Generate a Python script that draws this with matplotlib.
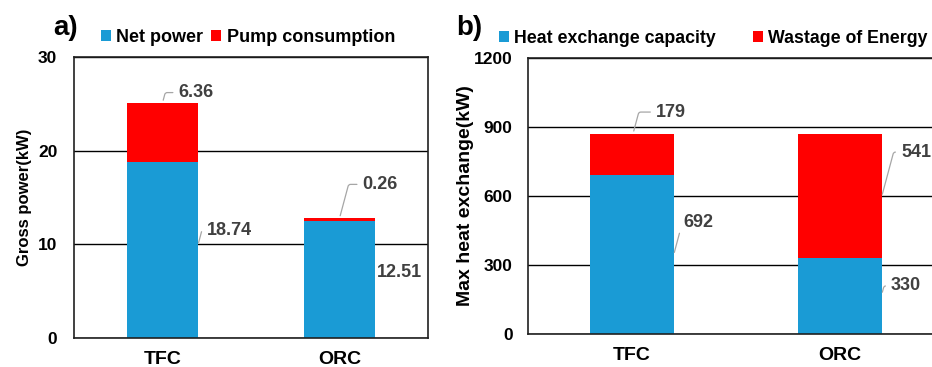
import numpy as np
import matplotlib.pyplot as plt

plt.rcParams['font.family'] = ['Liberation Sans', 'DejaVu Sans']
plt.rcParams['font.weight'] = 'bold'

cycles = ['TFC', 'ORC']
net_power = [18.74, 12.51]
pump_consumption = [6.36, 0.26]
heat_capacity = [692, 330]
energy_wastage = [179, 541]

blue = '#1a9bd5'
red = '#ff0000'
lbl_color = '#404040'
lead_color = '#a6a6a6'

fig = plt.figure(figsize=(9.32, 3.67), dpi=100)
ax1 = fig.add_axes([0.0794, 0.079, 0.3798, 0.7657])
ax2 = fig.add_axes([0.5665, 0.0899, 0.4464, 0.752])

x = np.arange(len(cycles))


def style_axes(ax, ymax, step, ypad):
    ax.set_xlim(-0.5, 1.5)
    ax.set_ylim(0, ymax)
    ax.set_yticks(np.arange(0, ymax + 1, step))
    ax.yaxis.grid(True, color='black', linewidth=1.0)
    ax.set_axisbelow(True)
    ax.set_xticks(x)
    ax.set_xticklabels(cycles, fontsize=14, fontweight='bold')
    ax.tick_params(axis='x', length=0, pad=9)
    ax.tick_params(axis='y', length=0, pad=ypad, labelsize=12.5)
    for s in ax.spines.values():
        s.set_color('#202020')
        s.set_linewidth(1.2)


def label(ax, text, xy, xytext, lead=True):
    props = dict(arrowstyle='-', color=lead_color, lw=0.9,
                 connectionstyle='angle,angleA=0,angleB=75,rad=2') if lead else None
    ax.annotate(text, xy=xy, xytext=xytext, fontsize=13, fontweight='bold',
                color=lbl_color, va='center', ha='left', arrowprops=props)


# a) gross power
ax1.bar(x, net_power, 0.4, color=blue, label='Net power')
ax1.bar(x, pump_consumption, 0.4, bottom=net_power, color=red,
        label='Pump consumption')
style_axes(ax1, 30, 10, 12)
ax1.set_ylabel('Gross power(kW)', fontsize=12, fontweight='bold', labelpad=4)
label(ax1, '6.36', (0.0, net_power[0] + pump_consumption[0]), (0.09, 26.2))
label(ax1, '18.74', (0.2, 9.9), (0.25, 11.5))
label(ax1, '0.26', (1.0, net_power[1] + pump_consumption[1]), (1.13, 16.4))
label(ax1, '12.51', (1.2, 7.0), (1.21, 7.0), lead=False)
ax1.legend(loc='lower left', bbox_to_anchor=(0.04, 0.995), ncol=2, frameon=False,
           handlelength=0.55, handleheight=0.55, handletextpad=0.3,
           columnspacing=0.45, borderpad=0.2, prop={'size': 13, 'weight': 'bold'})
fig.text(0.057, 0.905, 'a)', fontsize=20, fontweight='bold')

# b) heat exchange
ax2.bar(x, heat_capacity, 0.4, color=blue, label='Heat exchange capacity')
ax2.bar(x, energy_wastage, 0.4, bottom=heat_capacity, color=red,
        label='Wastage of Energy')
style_axes(ax2, 1200, 300, 11)
ax2.set_ylabel('Max heat exchange(kW)', fontsize=14, fontweight='bold', labelpad=0)
label(ax2, '179', (0.005, heat_capacity[0] + energy_wastage[0]), (0.115, 965))
label(ax2, '692', (0.2, 343), (0.245, 483))
label(ax2, '541', (1.2, 596), (1.293, 791))
label(ax2, '330', (1.2, 170), (1.245, 209))
ax2.legend(loc='lower left', bbox_to_anchor=(-0.1, 0.995), ncol=2, frameon=False,
           handlelength=0.55, handleheight=0.55, handletextpad=0.3,
           columnspacing=2.1, borderpad=0.2, prop={'size': 12.8, 'weight': 'bold'})
fig.text(0.489, 0.905, 'b)', fontsize=20, fontweight='bold')

fig.savefig('out.png', dpi=100)
